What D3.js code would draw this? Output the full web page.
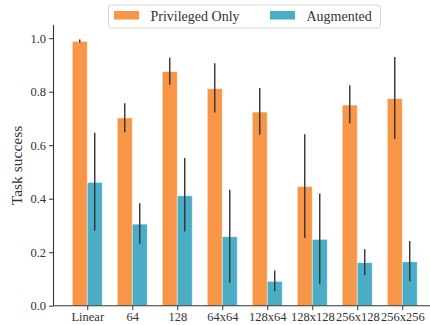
<!DOCTYPE html>
<html>
<head>
<meta charset="utf-8">
<script src="https://cdnjs.cloudflare.com/ajax/libs/d3/7.8.5/d3.min.js"></script>
<style>
  body { margin: 0; background: #fff; }
  text { font-family: "Liberation Serif", "DejaVu Serif", serif; fill: #333; }
</style>
</head>
<body>
<div id="vis"></div>
<script>
// Categories (network architectures)
var categories = ['Linear', '64', '128', '64x64', '128x64', '128x128', '256x128', '256x256'];

// Privileged Only: mean, low, high
var privMean = [0.988, 0.702, 0.875, 0.811, 0.724, 0.445, 0.750, 0.774];
var privLow  = [0.984, 0.648, 0.826, 0.722, 0.639, 0.253, 0.682, 0.623];
var privHigh = [0.995, 0.757, 0.927, 0.906, 0.814, 0.641, 0.824, 0.930];

// Augmented: mean, low, high
var augMean = [0.461, 0.305, 0.411, 0.258, 0.091, 0.248, 0.161, 0.164];
var augLow  = [0.280, 0.232, 0.277, 0.086, 0.054, 0.081, 0.115, 0.091];
var augHigh = [0.647, 0.383, 0.552, 0.433, 0.132, 0.419, 0.211, 0.242];

var seriesNames = ['Privileged Only', 'Augmented'];
var seriesColors = ['#F79646', '#4BACC6'];
var yTicks = [0.0, 0.2, 0.4, 0.6, 0.8, 1.0];

var W = 430, H = 325;
var margin = { left: 53.5, top: 25, bottom: 19.5 };

var svg = d3.select('#vis').append('svg')
    .attr('width', W)
    .attr('height', H);

// Scales
var xScale = d3.scaleLinear()
    .domain([-0.75, 7.75])
    .range([margin.left, margin.left + 382.5]);

var yScale = d3.scaleLinear()
    .domain([0, 1])
    .range([305.7, 38.2]);

var barW = xScale(0.333) - xScale(0);

// Build series rows
var series = [
    { name: seriesNames[0], color: seriesColors[0], mean: privMean, low: privLow, high: privHigh, off: -0.5 },
    { name: seriesNames[1], color: seriesColors[1], mean: augMean, low: augLow, high: augHigh, off: 0.5 }
];

var rows = [];
series.forEach(function(s) {
    categories.forEach(function(c, i) {
        rows.push({ i: i, color: s.color, mean: s.mean[i], low: s.low[i], high: s.high[i], off: s.off });
    });
});

// Bars
svg.append('g').selectAll('rect')
    .data(rows)
    .enter().append('rect')
    .attr('x', function(d) { return xScale(d.i) + d.off * barW - barW / 2; })
    .attr('y', function(d) { return yScale(d.mean); })
    .attr('width', barW)
    .attr('height', function(d) { return yScale(0) - yScale(d.mean); })
    .attr('fill', function(d) { return d.color; })
    .attr('stroke', '#fff')
    .attr('stroke-opacity', 0.6)
    .attr('stroke-width', 0.8);

// Error bars
svg.append('g').selectAll('line')
    .data(rows)
    .enter().append('line')
    .attr('x1', function(d) { return xScale(d.i) + d.off * barW; })
    .attr('x2', function(d) { return xScale(d.i) + d.off * barW; })
    .attr('y1', function(d) { return yScale(d.low); })
    .attr('y2', function(d) { return yScale(d.high); })
    .attr('stroke', '#333')
    .attr('stroke-width', 1.4);

// Axes
var xAxis = d3.axisBottom(xScale)
    .tickValues(d3.range(categories.length))
    .tickFormat(function(d) { return categories[d]; })
    .tickSize(4.5)
    .tickPadding(2);

var yAxis = d3.axisLeft(yScale)
    .tickValues(yTicks)
    .tickFormat(d3.format('.1f'))
    .tickSize(4.5)
    .tickPadding(3);

var gx = svg.append('g')
    .attr('transform', 'translate(0,' + yScale(0) + ')')
    .call(xAxis);

var gy = svg.append('g')
    .attr('transform', 'translate(' + margin.left + ',0)')
    .call(yAxis);

[gx, gy].forEach(function(g) {
    g.selectAll('text')
        .style('font-family', '"Liberation Serif", serif')
        .style('font-size', '12.5px')
        .attr('fill', '#333');
    g.selectAll('line').attr('stroke', '#333').attr('stroke-width', 1);
    g.select('.domain').attr('stroke', '#333').attr('stroke-width', 1.1);
});

// Replace y domain so it starts at top of plot and spans no outer ticks
gy.select('.domain').attr('d', 'M0,' + margin.top + 'V' + yScale(0));
gx.select('.domain').attr('d', 'M' + margin.left + ',0H' + W);

// Y axis title
svg.append('text')
    .attr('transform', 'translate(22,' + 165.5 + ') rotate(-90)')
    .attr('text-anchor', 'middle')
    .style('font-size', '15.5px')
    .text('Task success');

// Legend
var legend = svg.append('g');
legend.append('rect')
    .attr('x', 108.5)
    .attr('y', 5)
    .attr('width', 272)
    .attr('height', 23)
    .attr('rx', 3)
    .attr('fill', '#fff')
    .attr('stroke', '#d6d6d6')
    .attr('stroke-width', 1);

var legendX = [114, 270];
series.forEach(function(s, k) {
    legend.append('rect')
        .attr('x', legendX[k])
        .attr('y', 11)
        .attr('width', 25)
        .attr('height', 8.5)
        .attr('fill', s.color);
    legend.append('text')
        .attr('x', legendX[k] + 36.5)
        .attr('y', 20.5)
        .style('font-size', '14px')
        .text(s.name);
});
</script>
</body>
</html>
